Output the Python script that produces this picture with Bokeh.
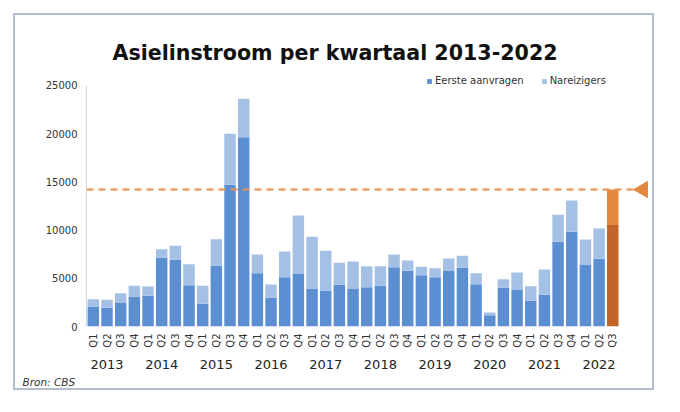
import math
from bokeh.plotting import figure
from bokeh.models import (ColumnDataSource, Range1d, LinearAxis, FixedTicker,
                          Legend, LegendItem, Title)
from bokeh.transform import stack
from bokeh.embed import file_html
from bokeh.resources import INLINE

# ---- data ----
years = ["2013", "2014", "2015", "2016", "2017", "2018", "2019", "2020", "2021", "2022"]
quarters = ["Q1", "Q2", "Q3", "Q4"] * 9 + ["Q1", "Q2", "Q3"]
eerste_aanvragen = [2070, 1935, 2490, 3110,
                    3180, 7120, 6920, 4290,
                    2350, 6290, 14690, 19630,
                    5530, 2970, 5120, 5500,
                    3940, 3730, 4320, 3900,
                    4080, 4220, 6150, 5770,
                    5320, 5120, 5810, 6090,
                    4390, 1170, 4010, 3840,
                    2660, 3290, 8780, 9820,
                    6430, 7020, 10540]
nareizigers = [760, 830, 970, 1110,
               970, 900, 1450, 2170,
               1870, 2770, 5290, 3980,
               1940, 1390, 2660, 6010,
               5360, 4120, 2280, 2840,
               2180, 2040, 1320, 1070,
               870, 930, 1240, 1240,
               1140, 280, 900, 1760,
               1520, 2620, 2800, 3250,
               2590, 3140, 3660]
reference_level = 14200          # dashed line level
highlight_quarter = "2022 Q3"    # last (orange) bar
y_ticks = [0, 5000, 10000, 15000, 20000, 25000]

# ---- styling ----
BLUE_DARK, BLUE_LIGHT = "#5c8fd2", "#a5c0e5"
ORANGE_DARK, ORANGE_LIGHT = "#c2632b", "#e3883f"
FONT = "DejaVu Sans"

n = len(eerste_aanvragen)
xs = list(range(n))
labels_full = [f"{years[i // 4]} {q}" for i, q in enumerate(quarters)]
dark = [ORANGE_DARK if l == highlight_quarter else BLUE_DARK for l in labels_full]
light = [ORANGE_LIGHT if l == highlight_quarter else BLUE_LIGHT for l in labels_full]

src = ColumnDataSource(dict(x=xs, eerste=eerste_aanvragen, nareizigers=nareizigers,
                            dark=dark, light=light))

x_start = -0.5
marker_x = n + 1.2
p = figure(width=641, height=377, output_backend="svg", toolbar_location=None,
           x_range=Range1d(x_start, 40.76), y_range=Range1d(0, 26760),
           x_axis_type=None,
           min_border_left=71, min_border_right=6, min_border_top=53, min_border_bottom=66,
           title="Asielinstroom per kwartaal 2013-2022",
           margin=(13, 13, 13, 13),
           styles={"border": "2px solid #b2bed0"})
p.outline_line_color = None
p.grid.visible = False
p.background_fill_color = "white"
p.border_fill_color = "white"

p.title.align = "left"
p.title.offset = 26
p.title.text_font = FONT
p.title.text_font_size = "20.6px"
p.title.text_font_style = "bold"
p.title.text_color = "#111111"
p.title.standoff = 8

r1 = p.vbar(x="x", width=0.84, bottom=0, top="eerste", fill_color="dark",
            line_color=None, source=src)
r2 = p.vbar(x="x", width=0.84, bottom=stack("eerste"), top=stack("eerste", "nareizigers"),
            fill_color="light", line_color=None, source=src)

# reference line + marker
p.segment(x0=x_start, x1=marker_x, y0=reference_level, y1=reference_level,
          line_color="#e8904c", line_width=2, line_dash="7 5")
p.scatter(x=[marker_x], y=[reference_level], marker="triangle", size=16, angle=math.pi / 2,
          fill_color=ORANGE_LIGHT, line_color=ORANGE_LIGHT)

# y axis
yax = p.yaxis[0]
yax.ticker = FixedTicker(ticks=y_ticks)
yax.bounds = (0, 25000)
yax.axis_line_color = "#d3d3d3"
yax.major_tick_line_color = None
yax.minor_tick_line_color = None
yax.major_tick_out = 0
yax.major_tick_in = 0
yax.major_label_standoff = 9
yax.major_label_text_font = FONT
yax.major_label_text_font_size = "10px"
yax.major_label_text_color = "#333333"

# quarter axis
qaxis = LinearAxis(ticker=FixedTicker(ticks=xs),
                   major_label_overrides={i: q for i, q in enumerate(quarters)},
                   major_label_orientation=math.pi / 2,
                   axis_line_color=None, major_tick_line_color=None, minor_tick_line_color=None,
                   major_tick_out=0, major_tick_in=0,
                   major_label_standoff=7, major_label_text_font=FONT,
                   major_label_text_font_size="10px", major_label_text_color="#333333")
p.add_layout(qaxis, "below")

# year axis
year_pos = [4 * k + 1 for k in range(len(years))]
yraxis = LinearAxis(ticker=FixedTicker(ticks=year_pos),
                    major_label_overrides={pos: y for pos, y in zip(year_pos, years)},
                    axis_line_color=None, major_tick_line_color=None, minor_tick_line_color=None,
                    major_tick_out=0, major_tick_in=0,
                    major_label_standoff=9, major_label_text_font=FONT,
                    major_label_text_font_size="13px", major_label_text_color="#222222")
p.add_layout(yraxis, "below")

p.add_layout(Title(text="Bron: CBS", align="left", offset=-64, text_font=FONT,
                   text_font_style="italic", text_font_size="10.5px",
                   text_color="#333333", standoff=4), "below")

legend = Legend(items=[LegendItem(label="Eerste aanvragen", renderers=[r1]),
                       LegendItem(label="Nareizigers", renderers=[r2])],
                orientation="horizontal", location=(340, 240),
                glyph_width=6, glyph_height=6, label_standoff=3, spacing=17,
                padding=0, margin=0, border_line_color=None, background_fill_alpha=0,
                label_text_font=FONT, label_text_font_size="10px", label_height=10,
                label_text_color="#333333")
p.add_layout(legend)

open("out.html", "w").write(file_html(p, INLINE))
